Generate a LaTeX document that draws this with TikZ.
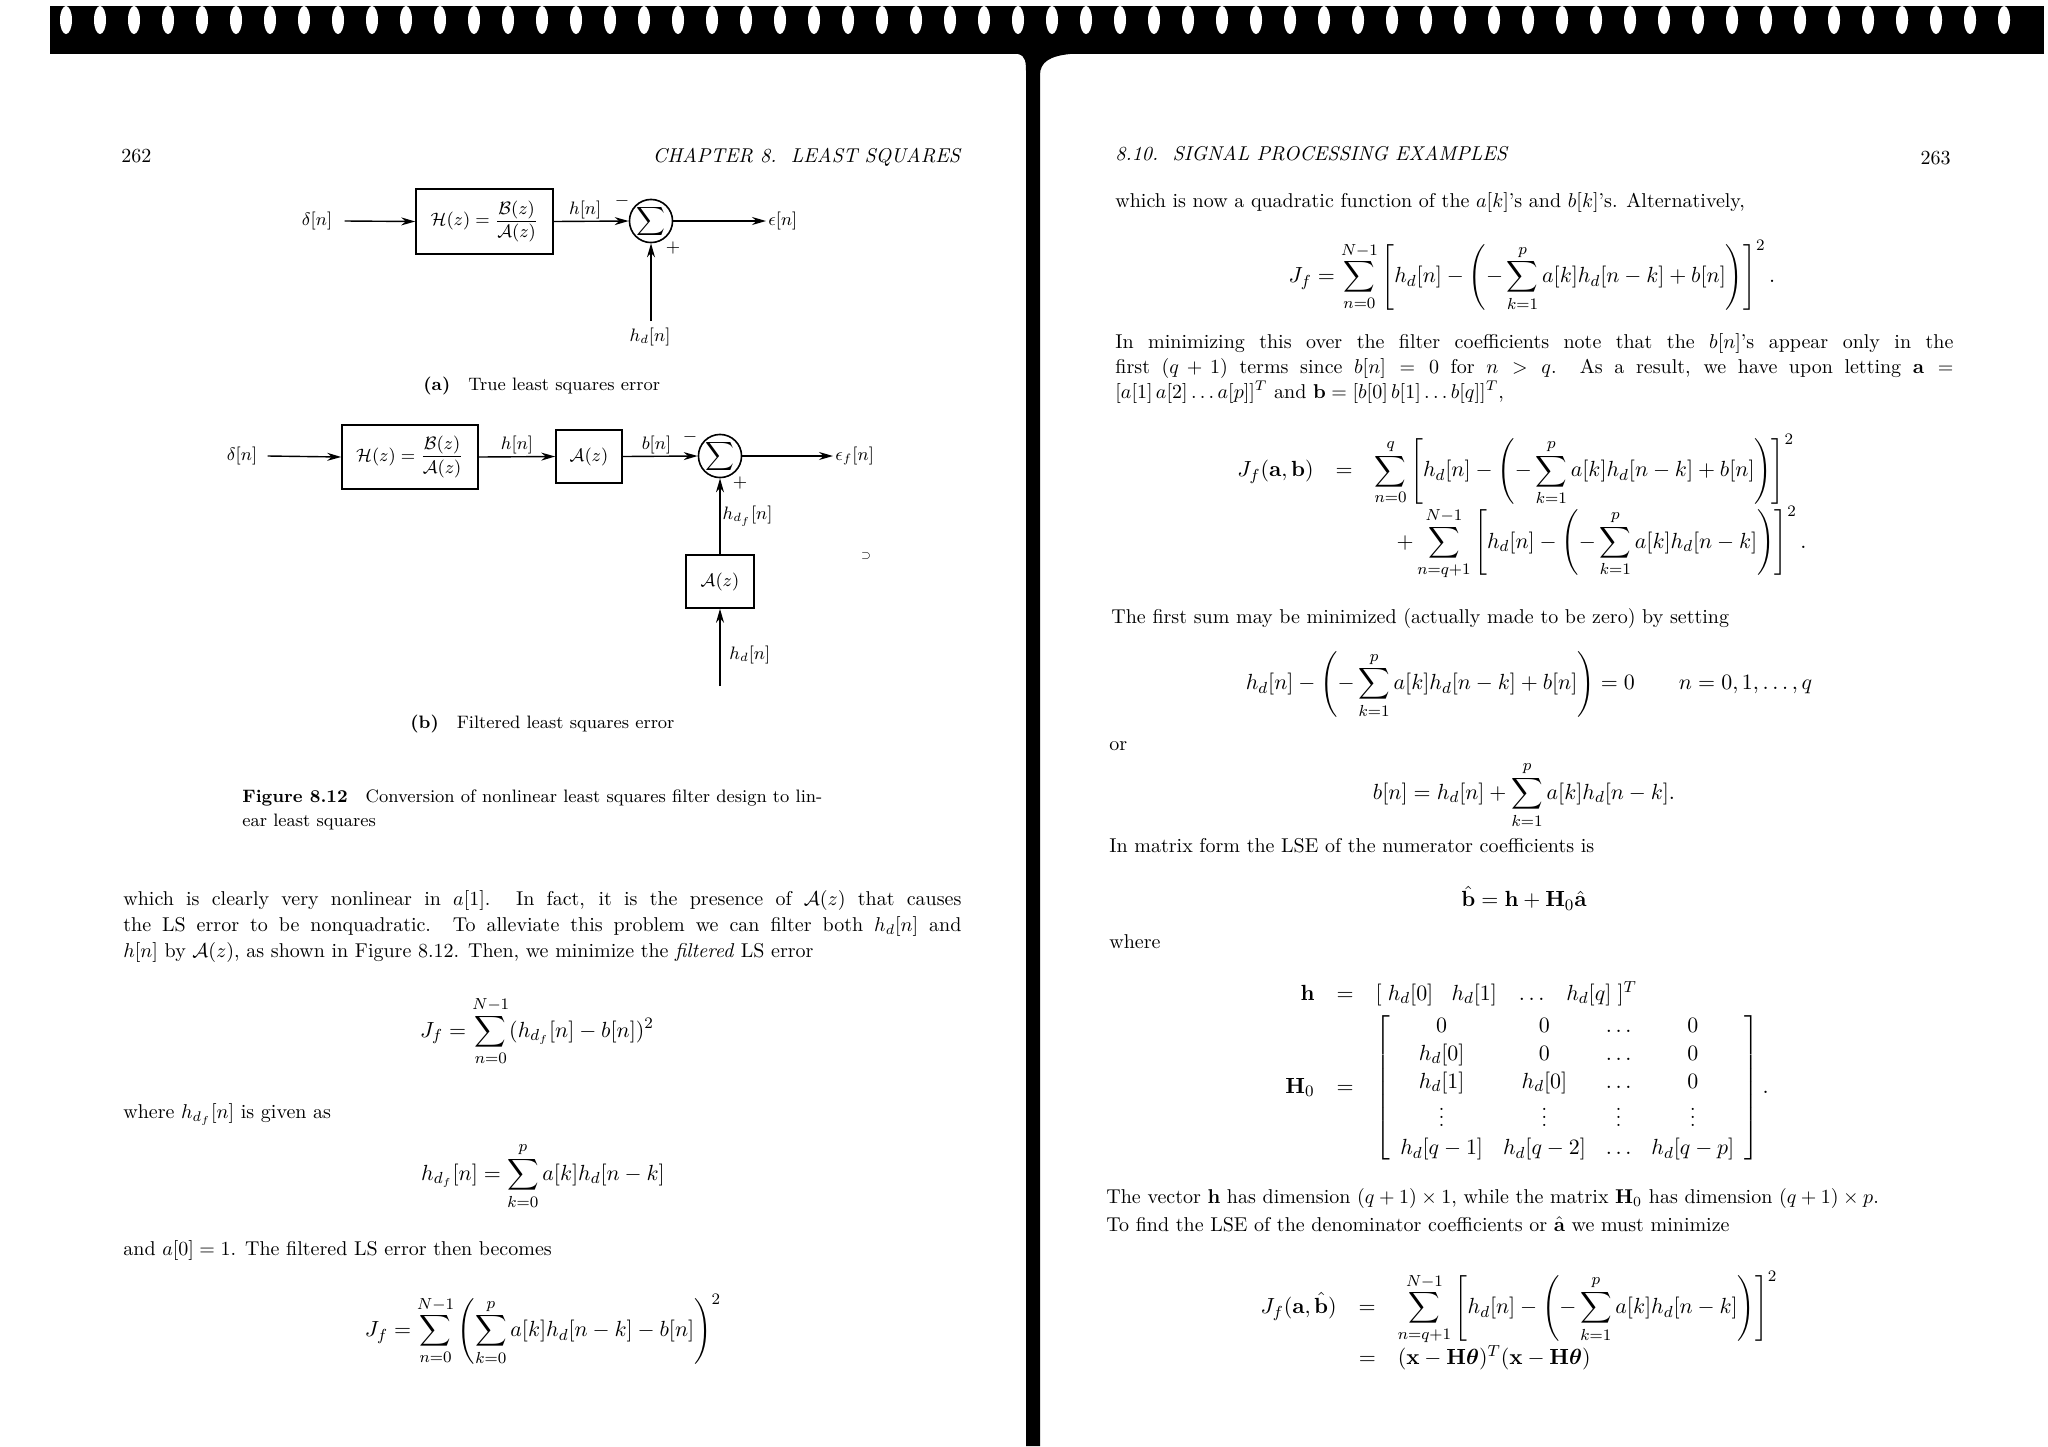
\documentclass[tikz,border=0pt]{standalone}
\usepackage{amsmath}
\usetikzlibrary{arrows.meta}
\newcommand\jl[1]{\makebox[419pt][s]{#1}}
\tikzset{
  txt/.style={anchor=base west,inner sep=0pt,font=\fontsize{10}{13}\selectfont},
  eq/.style={inner sep=0pt,font=\fontsize{11}{14}\selectfont},
  lbl/.style={inner sep=1pt,font=\small},
  blk/.style={draw,line width=0.8pt,inner sep=2pt,font=\small},
  sumc/.style={draw,circle,line width=0.8pt,minimum size=20pt,inner sep=0pt},
  sig/.style={line width=0.7pt,-{Stealth[length=7pt,width=4pt]}},
  captxt/.style={anchor=base west,inner sep=0pt,font=\small}
}
\begin{document}
\begin{tikzpicture}[x=0.5pt,y=-0.5pt]
\useasboundingbox (0,0) rectangle (2048,1446);
% top band and spine
\fill[black] (50,6) rectangle (2044,54);
\foreach \x in {66,100,...,2030} {\fill[white] (\x,20) ellipse [x radius=6, y radius=14];}
\fill[black] (1018,54) .. controls (1026,56) and (1026,62) .. (1026,75) -- (1026,1446) -- (1040,1446) -- (1040,75) .. controls (1040,62) and (1050,56) .. (1070,54) -- cycle;
% headers
\node[txt] (p262) at (121,162) {262};
\node[txt,anchor=base east] (ch) at (962,162) {\textit{CHAPTER 8.\ \ LEAST SQUARES}};
\node[txt] (sec) at (1115,160) {\textit{8.10.\ \ SIGNAL PROCESSING EXAMPLES}};
\node[txt,anchor=base east] (p263) at (1951,164) {263};
% ---- diagram (a)
\node[lbl] (da) at (317,221) {$\delta[n]$};
\node[blk,minimum width=68.5pt,minimum height=32.5pt] (Ha) at (484.5,221.5) {$\mathcal{H}(z)=\dfrac{\mathcal{B}(z)}{\mathcal{A}(z)}$};
\node[sumc] (sa) at (651,221) {$\displaystyle\sum$};
\node[lbl,anchor=west] (ea) at (766,221) {$\epsilon[n]$};
\node[lbl] (hda) at (650,337) {$h_d[n]$};
\coordinate (hdat) at (651,321);
\draw[sig] ([xshift=5pt]da.east) -- (Ha.west);
\draw[sig] (Ha.east) -- node[lbl,above,pos=0.42] (hna) {$h[n]$} (sa.west);
\draw[sig] (sa.east) -- (ea.west);
\draw[sig] (hdat) -- (sa.south);
\node[lbl] (ma) at (622,201) {$-$};
\node[lbl] (pa) at (673,248) {$+$};
\node[captxt] (capa) at (423,390) {\textbf{(a)}\quad True least squares error};
% ---- diagram (b)
\node[lbl] (db) at (242,456) {$\delta[n]$};
\node[blk,minimum width=68pt,minimum height=32pt] (Hb) at (410,457) {$\mathcal{H}(z)=\dfrac{\mathcal{B}(z)}{\mathcal{A}(z)}$};
\node[blk,minimum width=33pt,minimum height=26.5pt] (Ab) at (589,456.5) {$\mathcal{A}(z)$};
\node[sumc] (sb) at (720,456) {$\displaystyle\sum$};
\node[lbl,anchor=west] (eb) at (833,456) {$\epsilon_f[n]$};
\node[blk,minimum width=34pt,minimum height=26.5pt] (Ac) at (720,581.5) {$\mathcal{A}(z)$};
\node[lbl,anchor=west] (hdb) at (727,655) {$h_d[n]$};
\coordinate (hdbt) at (720,686);
\draw[sig] ([xshift=4pt]db.east) -- (Hb.west);
\draw[sig] (Hb.east) -- node[lbl,above] (hnb) {$h[n]$} (Ab.west);
\draw[sig] (Ab.east) -- node[lbl,above,pos=0.45] (bnb) {$b[n]$} (sb.west);
\draw[sig] (sb.east) -- (eb.west);
\draw[sig] (Ac.north) -- node[lbl,right] (hdfb) {$h_{d_f}[n]$} (sb.south);
\draw[sig] (hdbt) -- (Ac.south);
\node[lbl] (mb) at (690,437) {$-$};
\node[lbl] (pb) at (740,483) {$+$};
\node[lbl] (stray) at (866,556) {\tiny$\supset$};
\node[captxt] (capb) at (410,728) {\textbf{(b)}\quad Filtered least squares error};
% figure caption
\node[captxt] (fc1) at (242,802) {\textbf{Figure 8.12}\quad Conversion of nonlinear least squares filter design to lin-};
\node[captxt] (fc2) at (242,826) {ear least squares};
% left body
\node[txt] (l1) at (123,905) {\jl{which is clearly very nonlinear in $a[1]$. In fact, it is the presence of $\mathcal{A}(z)$ that causes}};
\node[txt] (l2) at (123,931) {\jl{the LS error to be nonquadratic. To alleviate this problem we can filter both $h_d[n]$ and}};
\node[txt] (l3) at (123,957) {$h[n]$ by $\mathcal{A}(z)$, as shown in Figure 8.12. Then, we minimize the \textit{filtered} LS error};
\node[eq] (e1) at (537,1031) {$\displaystyle J_f=\sum_{n=0}^{N-1}(h_{d_f}[n]-b[n])^2$};
\node[txt] (l4) at (123,1118) {where $h_{d_f}[n]$ is given as};
\node[eq] (e2) at (543,1176) {$\displaystyle h_{d_f}[n]=\sum_{k=0}^{p}a[k]h_d[n-k]$};
\node[txt] (l5) at (123,1255) {and $a[0]=1$. The filtered LS error then becomes};
\node[eq] (e3) at (543,1330) {$\displaystyle J_f=\sum_{n=0}^{N-1}\left(\sum_{k=0}^{p}a[k]h_d[n-k]-b[n]\right)^2$};
% right body
\node[txt] (r1) at (1115,207) {which is now a quadratic function of the $a[k]$'s and $b[k]$'s. Alternatively,};
\node[eq] (e4) at (1532,276) {$\displaystyle J_f=\sum_{n=0}^{N-1}\left[h_d[n]-\left(-\sum_{k=1}^{p}a[k]h_d[n-k]+b[n]\right)\right]^2.$};
\node[txt] (r2) at (1115,348) {\jl{In minimizing this over the filter coefficients note that the $b[n]$'s appear only in the}};
\node[txt] (r3) at (1115,373) {\jl{first $(q+1)$ terms since $b[n]=0$ for $n>q$.\ \ As a result, we have upon letting $\mathbf{a}=$}};
\node[txt] (r4) at (1115,398) {$[a[1]\,a[2]\ldots a[p]]^T$ and $\mathbf{b}=[b[0]\,b[1]\ldots b[q]]^T$,};
\node[eq] (e5) at (1522,507) {$\displaystyle\begin{array}{r@{\quad}c@{\quad}l}
J_f(\mathbf{a},\mathbf{b}) & = & \displaystyle\sum_{n=0}^{q}\left[h_d[n]-\left(-\sum_{k=1}^{p}a[k]h_d[n-k]+b[n]\right)\right]^2\\[6pt]
 & & \displaystyle\quad+\sum_{n=q+1}^{N-1}\left[h_d[n]-\left(-\sum_{k=1}^{p}a[k]h_d[n-k]\right)\right]^2.
\end{array}$};
\node[txt] (r5) at (1111,623) {The first sum may be minimized (actually made to be zero) by setting};
\node[eq] (e6) at (1529,685) {$\displaystyle h_d[n]-\left(-\sum_{k=1}^{p}a[k]h_d[n-k]+b[n]\right)=0\qquad n=0,1,\ldots,q$};
\node[txt] (r6) at (1109,750) {or};
\node[eq] (e7) at (1524,795) {$\displaystyle b[n]=h_d[n]+\sum_{k=1}^{p}a[k]h_d[n-k].$};
\node[txt] (r7) at (1109,852) {In matrix form the LSE of the numerator coefficients is};
\node[eq] (e8) at (1524,898) {$\hat{\mathbf{b}}=\mathbf{h}+\mathbf{H}_0\hat{\mathbf{a}}$};
\node[txt] (r8) at (1109,948) {where};
\node[eq] (e9) at (1527,1072) {$\begin{array}{r@{\quad}c@{\quad}l}
\mathbf{h} & = & [\;h_d[0]\;\;\; h_d[1]\;\;\;\ldots\;\;\; h_d[q]\;]^T\\[2pt]
\mathbf{H}_0 & = & \left[\begin{array}{cccc}
0 & 0 & \ldots & 0\\
h_d[0] & 0 & \ldots & 0\\
h_d[1] & h_d[0] & \ldots & 0\\
\vdots & \vdots & \vdots & \vdots\\
h_d[q-1] & h_d[q-2] & \ldots & h_d[q-p]
\end{array}\right].
\end{array}$};
\node[txt] (r9) at (1106,1203) {The vector $\mathbf{h}$ has dimension $(q+1)\times 1$, while the matrix $\mathbf{H}_0$ has dimension $(q+1)\times p$.};
\node[txt] (r10) at (1106,1231) {To find the LSE of the denominator coefficients or $\hat{\mathbf{a}}$ we must minimize};
\node[eq] (e10) at (1519,1322) {$\displaystyle\begin{array}{r@{\quad}c@{\quad}l}
J_f(\mathbf{a},\hat{\mathbf{b}}) & = & \displaystyle\sum_{n=q+1}^{N-1}\left[h_d[n]-\left(-\sum_{k=1}^{p}a[k]h_d[n-k]\right)\right]^2\\[6pt]
 & = & (\mathbf{x}-\mathbf{H}\boldsymbol{\theta})^T(\mathbf{x}-\mathbf{H}\boldsymbol{\theta})
\end{array}$};
\end{tikzpicture}
\end{document}
